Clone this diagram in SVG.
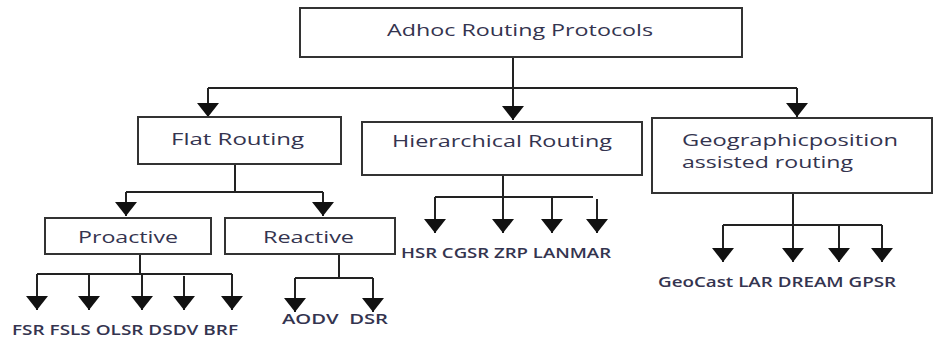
<svg xmlns="http://www.w3.org/2000/svg" width="933" height="338" viewBox="0 0 933 338">
<defs>
<marker id="ah" viewBox="0 0 14 22" refX="14" refY="11" markerWidth="14" markerHeight="22" markerUnits="userSpaceOnUse" orient="auto">
<path d="M0,0 L14,11 L0,22 z" fill="#111"/>
</marker>
<style>
.box{fill:#fff;stroke:#333;stroke-width:2}
.ln{fill:none;stroke:#222;stroke-width:2}
.ar{fill:none;stroke:#222;stroke-width:2;marker-end:url(#ah)}
.t{font-family:"Open Sans","Liberation Sans",sans-serif;font-size:16px;fill:#34344f}
.s{font-family:"Open Sans","Liberation Sans",sans-serif;font-size:14px;font-weight:600;fill:#34344f}
</style>
</defs>
<rect width="933" height="338" fill="#fff"/>
<g id="connectors">
<path class="ln" d="M513,57 V88 M208,88 H797"/>
<path class="ar" d="M208,88 V117"/>
<path class="ar" d="M513,88 V120"/>
<path class="ar" d="M797,88 V117"/>
<path class="ln" d="M235,164 V192 M126,192 H323"/>
<path class="ar" d="M126,192 V216"/>
<path class="ar" d="M323,192 V216"/>
<path class="ln" d="M140,254 V274 M37,274 H232"/>
<path class="ar" d="M37,274 V310"/>
<path class="ar" d="M89,274 V310"/>
<path class="ar" d="M142,274 V310"/>
<path class="ar" d="M184,276 V310"/>
<path class="ar" d="M232,274 V310"/>
<path class="ln" d="M339,254 V278 M295,278 H373"/>
<path class="ar" d="M295,278 V312"/>
<path class="ar" d="M373,278 V312"/>
<path class="ln" d="M503,175 V197 M435,197 H593"/>
<path class="ar" d="M435,197 V233"/>
<path class="ar" d="M503,197 V233"/>
<path class="ar" d="M552,197 V233"/>
<path class="ar" d="M597,199 V233"/>
<path class="ln" d="M793,193 V225 M723,225 H882"/>
<path class="ar" d="M723,225 V262"/>
<path class="ar" d="M793,225 V262"/>
<path class="ar" d="M839,225 V262"/>
<path class="ar" d="M882,225 V262"/>
</g>
<g id="root">
<rect class="box" x="300" y="8" width="442" height="49"/>
<text class="t" x="387" y="36" textLength="266" lengthAdjust="spacingAndGlyphs">Adhoc Routing Protocols</text>
</g>
<g id="flat">
<rect class="box" x="138" y="117" width="203" height="47"/>
<text class="t" x="171" y="145" textLength="133" lengthAdjust="spacingAndGlyphs">Flat Routing</text>
</g>
<g id="hierarchical">
<rect class="box" x="362" y="122" width="280" height="53"/>
<text class="t" x="392" y="147" textLength="220" lengthAdjust="spacingAndGlyphs">Hierarchical Routing</text>
</g>
<g id="geographic">
<rect class="box" x="652" y="118" width="280" height="75"/>
<text class="t" x="682" y="146" textLength="216" lengthAdjust="spacingAndGlyphs">Geographicposition</text>
<text class="t" x="682" y="168" textLength="171" lengthAdjust="spacingAndGlyphs">assisted routing</text>
</g>
<g id="proactive">
<rect class="box" x="45" y="218" width="166" height="36"/>
<text class="t" x="78" y="243" textLength="100" lengthAdjust="spacingAndGlyphs">Proactive</text>
</g>
<g id="reactive">
<rect class="box" x="225" y="218" width="170" height="36"/>
<text class="t" x="263" y="243" textLength="91" lengthAdjust="spacingAndGlyphs">Reactive</text>
</g>
<g id="proactive-protocols">
<text class="s" x="12" y="335" textLength="226" lengthAdjust="spacingAndGlyphs">FSR FSLS OLSR DSDV BRF</text>
</g>
<g id="reactive-protocols">
<text class="s" x="282" y="324" textLength="106" lengthAdjust="spacingAndGlyphs" xml:space="preserve">AODV  DSR</text>
</g>
<g id="hierarchical-protocols">
<text class="s" x="401" y="258" textLength="210" lengthAdjust="spacingAndGlyphs">HSR CGSR ZRP LANMAR</text>
</g>
<g id="geographic-protocols">
<text class="s" x="658" y="287" textLength="238" lengthAdjust="spacingAndGlyphs">GeoCast LAR DREAM GPSR</text>
</g>
</svg>
